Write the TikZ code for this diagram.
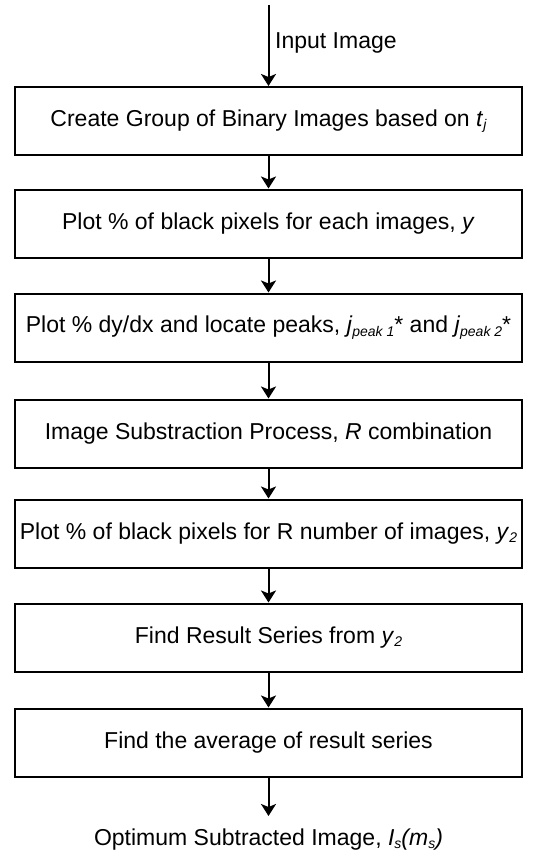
\documentclass[tikz,border=0pt]{standalone}
\usepackage{fontspec}
\setmainfont{Liberation Sans}
\usetikzlibrary{arrows.meta}

% small italic subscript used inside the step boxes
\newcommand{\sbs}[1]{\raisebox{-0.28ex}{\fontsize{14}{14}\selectfont\itshape #1}}

\begin{document}
\begin{tikzpicture}[x=1pt,y=-1pt,
  every node/.style={font=\fontsize{23}{28}\selectfont},
  stepbox/.style={draw=black, line width=2pt, minimum width=507pt,
    minimum height=68pt, inner sep=0pt, fill=white},
  flow/.style={line width=2pt, -{Stealth[length=12pt,width=15pt,inset=3pt]}}]

\useasboundingbox (0,0) rectangle (537,853);

\coordinate (in) at (268.5,5);
\node[anchor=west, inner sep=0pt] (inlbl) at (275,43) {Input Image};

\node[stepbox] (s1) at (268.5,121) {Create Group of Binary Images based on \textit{t}\sbs{j}};
\node[stepbox] (s2) at (268.5,223.5) {Plot \% of black pixels for each images, \textit{y}};
\node[stepbox] (s3) at (268.5,327.5) {Plot \% dy/dx and locate peaks, \textit{j}\sbs{peak 1}* and \textit{j}\sbs{peak 2}*};
\node[stepbox] (s4) at (268.5,433.5) {Image Substraction Process, \textit{R} combination};
\node[stepbox] (s5) at (268.5,533.5) {Plot \% of black pixels for R number of images, \textit{y}\sbs{2}};
\node[stepbox] (s6) at (268.5,637.5) {Find Result Series from \textit{y}\sbs{2}};
\node[stepbox] (s7) at (268.5,742.5) {Find the average of result series};

\coordinate (out) at (268.5,816);
\node[anchor=base, inner sep=0pt] (outlbl) at (268.5,845)
  {Optimum Subtracted Image, \textit{I}\sbs{s}\textit{(m}\sbs{s}\textit{)}};

\draw[flow] (in) -- (s1.north);
\draw[flow] (s1) -- (s2);
\draw[flow] (s2) -- (s3);
\draw[flow] (s3) -- (s4);
\draw[flow] (s4) -- (s5);
\draw[flow] (s5) -- (s6);
\draw[flow] (s6) -- (s7);
\draw[flow] (s7) -- (out);
\end{tikzpicture}
\end{document}
